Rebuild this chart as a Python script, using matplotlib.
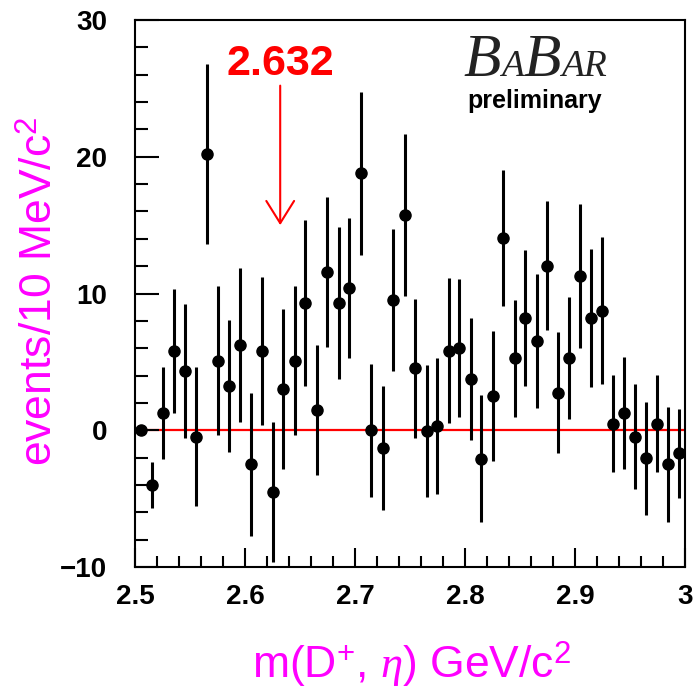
import numpy as np
import matplotlib
matplotlib.use("Agg")
import matplotlib.pyplot as plt
from matplotlib.offsetbox import TextArea, HPacker, VPacker, AnnotationBbox

plt.rcParams['font.family'] = ['Liberation Sans', 'DejaVu Sans']
plt.rcParams['mathtext.fontset'] = 'custom'
plt.rcParams['mathtext.rm'] = 'Liberation Sans'
plt.rcParams['mathtext.it'] = 'Liberation Serif:italic'

# bin centres, m(D+, eta) in GeV/c^2 (10 MeV bins)
mass = [2.505, 2.515, 2.525, 2.535, 2.545, 2.555, 2.565, 2.575, 2.585, 2.595,
        2.605, 2.615, 2.625, 2.635, 2.645, 2.655, 2.665, 2.675, 2.685, 2.695,
        2.705, 2.715, 2.725, 2.735, 2.745, 2.755, 2.765, 2.775, 2.785, 2.795,
        2.805, 2.815, 2.825, 2.835, 2.845, 2.855, 2.865, 2.875, 2.885, 2.895,
        2.905, 2.915, 2.925, 2.935, 2.945, 2.955, 2.965, 2.975, 2.985, 2.995]

# events per bin (background subtracted) and their errors
events = [0.0, -4.0, 1.25, 5.8, 4.3, -0.46, 20.2, 5.08, 3.25, 6.23,
          -2.5, 5.8, -4.5, 3.0, 5.08, 9.3, 1.47, 11.56, 9.3, 10.4,
          18.8, 0.0, -1.3, 9.5, 15.76, 4.52, -0.05, 0.3, 5.8, 6.0,
          3.74, -2.08, 2.5, 14.05, 5.26, 8.2, 6.55, 12.04, 2.76, 5.26,
          11.3, 8.2, 8.75, 0.49, 1.25, -0.46, -2.05, 0.49, -2.5, -1.69]
errors = [0.0, 1.65, 3.36, 4.55, 4.9, 5.1, 6.6, 5.45, 4.84, 5.6,
          5.25, 5.4, 5.13, 5.87, 5.45, 6.05, 4.73, 5.5, 5.55, 5.1,
          5.95, 4.85, 4.55, 5.2, 5.94, 5.1, 4.85, 4.95, 5.3, 5.05,
          4.45, 4.64, 4.74, 5.0, 4.28, 4.95, 4.9, 4.7, 4.46, 4.46,
          5.25, 5.03, 5.37, 3.54, 4.12, 3.84, 4.12, 3.54, 4.19, 3.26]

peak_mass = 2.632
peak_label = "2.632"

fig = plt.figure(figsize=(6.95, 6.88), dpi=100)
ax = fig.add_axes([135/695, 1 - 567/688, 550/695, 547/688])

ax.axhline(0, color='#ff0000', linewidth=1.6, zorder=1)
ax.errorbar(mass, events, yerr=errors, fmt='o', color='black',
            markersize=8, elinewidth=2.2, capsize=0, zorder=3)

ax.set_xlim(2.5, 3.0)
ax.set_ylim(-10, 30)
ax.set_xticks([2.5, 2.6, 2.7, 2.8, 2.9, 3.0])
ax.set_xticklabels(['2.5', '2.6', '2.7', '2.8', '2.9', '3'])
ax.set_xticks(np.arange(2.5, 3.001, 0.02), minor=True)
ax.set_yticks([-10, 0, 10, 20, 30])
ax.set_yticklabels(['\u221210', '0', '10', '20', '30'])
ax.set_yticks(np.arange(-10, 30.1, 2), minor=True)

ax.tick_params(which='both', direction='in', top=False, right=False,
               width=1.5, labelsize=20)
ax.tick_params(axis='y', which='major', length=17, pad=20)
ax.tick_params(axis='y', which='minor', length=9)
ax.tick_params(axis='x', which='major', length=14, pad=12)
ax.tick_params(axis='x', which='minor', length=8)
for lab in ax.get_xticklabels() + ax.get_yticklabels():
    lab.set_fontweight('bold')
for sp in ax.spines.values():
    sp.set_linewidth(1.5)

# signal position arrow
ax.annotate('', xy=(peak_mass, 15.0), xytext=(peak_mass, 25.2),
            arrowprops=dict(arrowstyle='->,head_length=0.8,head_width=0.5',
                            color='#ff0000', linewidth=1.5, mutation_scale=20,
                            shrinkA=0, shrinkB=0))
ax.text(peak_mass, 25.95, peak_label, color='#ff0000', fontsize=31,
        fontweight='bold', ha='center', va='baseline')

# BABAR logo
big = dict(fontsize=44, family='Liberation Serif', style='italic', color='#222222')
small = dict(fontsize=27, family='Liberation Serif', style='italic', color='#222222')
logo = HPacker(children=[TextArea('B', textprops=big), TextArea('A', textprops=small),
                         TextArea('B', textprops=big), TextArea('AR', textprops=small)],
               align='baseline', pad=0, sep=0)
prelim = TextArea('preliminary', textprops=dict(fontsize=18, fontweight='bold', color='black'))
box = VPacker(children=[logo, prelim], align='center', pad=0, sep=0)
ab = AnnotationBbox(box, (535, 688 - 113), xycoords='figure pixels',
                    box_alignment=(0.5, 0), frameon=False)
fig.add_artist(ab)

# axis titles
fig.text(52/695, 1 - 291.5/688, 'events/10 MeV/c$^{2}$', color='#ff00ff',
         fontsize=32, rotation=90, ha='center', va='baseline',
         rotation_mode='anchor')
fig.text(412/695, 1 - 678/688, 'm(D$^{+}$, $\\eta$) GeV/c$^{2}$', color='#ff00ff',
         fontsize=32, ha='center', va='baseline')

fig.savefig('out.png', dpi=100)
